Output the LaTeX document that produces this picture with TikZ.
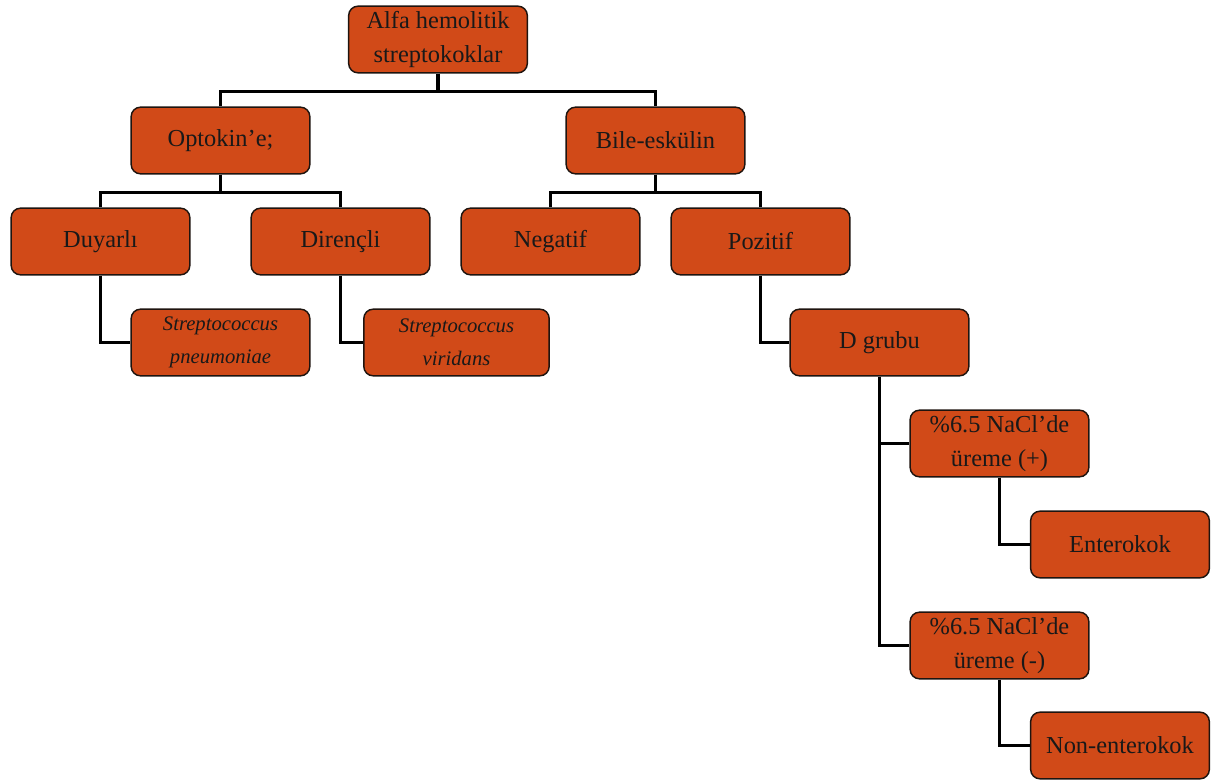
\documentclass[tikz,border=0pt]{standalone}
\usepackage{fontspec}
\setmainfont{Liberation Serif}
\definecolor{boxfill}{RGB}{209,74,24}
\definecolor{boxline}{RGB}{30,20,15}
\begin{document}
\begin{tikzpicture}[x=0.75pt,y=-0.75pt,
  box/.style={rectangle,rounded corners=7pt,draw=boxline,line width=1.1pt,fill=boxfill,
    minimum width=134pt,minimum height=50pt,align=center,inner sep=2pt,
    font=\fontsize{18.3}{25}\selectfont,text=black!90},
  spbox/.style={box,font=\fontsize{15.5}{25}\selectfont\itshape},
  conn/.style={line width=2.7pt,black}]
\useasboundingbox (0,0) rectangle (1216,780);
\node[box] (alfa) at (438,39.5) {Alfa hemolitik\\streptokoklar};
\node[box] (opto) at (220.5,140.5) {Optokin’e;};
\node[box] (bile) at (655.5,140.5) {Bile-eskülin};
\node[box] (duy) at (100.5,241.5) {Duyarlı};
\node[box] (dir) at (340.5,241.5) {Dirençli};
\node[box] (neg) at (550.5,241.5) {Negatif};
\node[box] (poz) at (760.5,241.5) {Pozitif};
\node[spbox] (pneu) at (220.5,342.5) {Streptococcus\\pneumoniae};
\node[spbox,minimum width=139pt] (viri) at (456.5,342.5) {Streptococcus\\viridans};
\node[box] (dgr) at (879.5,342.5) {D grubu};
\node[box] (nap) at (999.5,443.5) {\%6.5 NaCl’de\\üreme (+)};
\node[box] (ent) at (1120,544.5) {Enterokok};
\node[box] (nam) at (999.5,645.5) {\%6.5 NaCl’de\\üreme (-)};
\node[box] (non) at (1120,745.5) {Non-enterokok};
\begin{scope}[conn]
\draw (alfa.south) -- ++(0,18) -| (opto.north);
\draw (alfa.south) -- ++(0,18) -| (bile.north);
\draw (opto.south) -- ++(0,18) -| (duy.north);
\draw (opto.south) -- ++(0,18) -| (dir.north);
\draw (bile.south) -- ++(0,18) -| (neg.north);
\draw (bile.south) -- ++(0,18) -| (poz.north);
\draw (duy.south) |- (pneu.west);
\draw (dir.south) |- (viri.west);
\draw (poz.south) |- (dgr.west);
\draw (dgr.south) |- (nap.west);
\draw (dgr.south) |- (nam.west);
\draw (nap.south) |- (ent.west);
\draw (nam.south) |- (non.west);
\end{scope}
\end{tikzpicture}
\end{document}
